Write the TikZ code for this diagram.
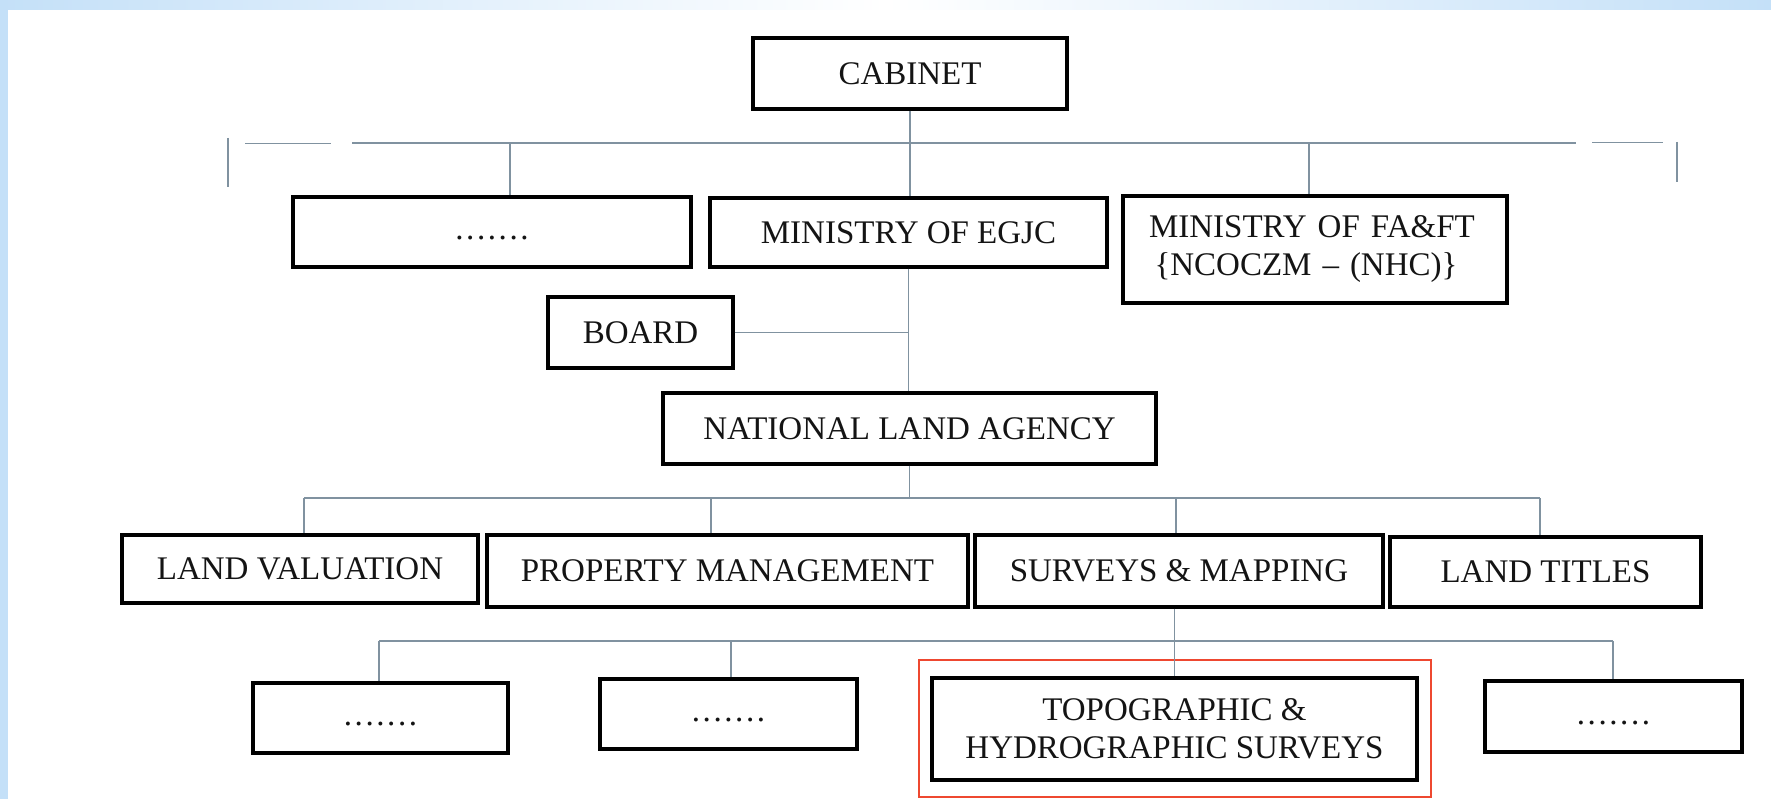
\documentclass[tikz,border=0pt]{standalone}
\usepackage{fontspec}
\setmainfont{Liberation Serif}
\definecolor{connclr}{RGB}{128,146,160}
\definecolor{lblue}{RGB}{196,224,248}
\definecolor{redclr}{RGB}{238,72,48}
\definecolor{txt}{RGB}{20,20,20}
\newcommand{\mydots}{\strut.\kern2.6pt.\kern2.6pt.\kern2.6pt.\kern2.6pt.\kern2.6pt.\kern2.6pt.}
\begin{document}
\begin{tikzpicture}[x=1pt,y=-1pt,
  box/.style={draw=black, line width=3.2pt, fill=white, inner sep=0pt, text=txt,
              font=\fontsize{33}{38}\selectfont, align=center},
  link/.style={draw=connclr, line width=1.4pt},
  highlight/.style={draw=redclr, line width=2pt, inner sep=0pt}
]
% background
\fill[white] (0,0) rectangle (1771,799);
\fill[lblue] (0,0) rectangle (8,799);
\shade[left color=lblue, right color=lblue, middle color=white] (0,0) rectangle (1771,10);
\useasboundingbox (0,0) rectangle (1771,799);

% nodes
\node[box, minimum width=314, minimum height=71] (cab)   at (910,73.5)   {CABINET};
\node[box, minimum width=398, minimum height=70] (d1)    at (492,232)    {\mydots};
\node[box, minimum width=397, minimum height=69] (egjc)  at (908.5,232.5) {MINISTRY OF EGJC};
\node[box, minimum width=384, minimum height=107, align=left, text width=332, inner xsep=26pt] (fa) at (1315,249.5)
  {MINISTRY OF FA\&FT\\\,\{NCOCZM -- (NHC)\}};
\node[box, minimum width=185, minimum height=71] (board) at (640.5,332.5) {BOARD};
\node[box, minimum width=493, minimum height=71] (nla)   at (909.5,428.5) {NATIONAL LAND AGENCY};
\node[box, minimum width=356, minimum height=68] (lv)    at (300,569)    {LAND VALUATION};
\node[box, minimum width=481, minimum height=72] (pm)    at (727.5,571)  {PROPERTY MANAGEMENT};
\node[box, minimum width=408, minimum height=72] (sm)    at (1179,571)   {SURVEYS \& MAPPING};
\node[box, minimum width=311, minimum height=70] (lt)    at (1545.5,572) {LAND TITLES};
\node[box, minimum width=255, minimum height=70] (l1)    at (380.5,718)  {\mydots};
\node[box, minimum width=257, minimum height=70] (l2)    at (728.5,714)  {\mydots};
\node[box, minimum width=485, minimum height=102] (topo) at (1174.5,729)
  {TOPOGRAPHIC \&\\HYDROGRAPHIC SURVEYS};
\node[box, minimum width=257, minimum height=71] (l4)    at (1613.5,716.5) {\mydots};
\node[highlight, minimum width=512, minimum height=137] (hl) at (1175,728.5) {};

% top bus
\coordinate (tickLa) at (228,138);
\coordinate (tickLb) at (228,187);
\coordinate (tbA) at (245,143.5);
\coordinate (tbB) at (331,143.5);
\coordinate (tbC) at (352,143);
\coordinate (tbD) at (1576,143);
\coordinate (tbE) at (1592,142.5);
\coordinate (tbF) at (1663,142.5);
\coordinate (tickRa) at (1677,142);
\coordinate (tickRb) at (1677,182);
\coordinate (td1) at (510,143);
\coordinate (tfa) at (1309,143);
\draw[link] (tickLa) -- (tickLb);
\draw[link] (tbA) -- (tbB);
\draw[link] (tbC) -- (tbD);
\draw[link] (tbE) -- (tbF);
\draw[link] (tickRa) -- (tickRb);
\draw[link] (cab.south) -- (egjc.north -| cab.south);
\draw[link] (td1) -- (td1 |- d1.north);
\draw[link] (tfa) -- (tfa |- fa.north);

% board & agency
\draw[link] (board.east) -- (board.east -| egjc.south);
\draw[link] (egjc.south) -- (nla.north -| egjc.south);

% row bus
\coordinate (rb) at (909,498);
\coordinate (rbL) at (304,498);
\coordinate (rbP) at (711,498);
\coordinate (rbS) at (1176,498);
\coordinate (rbR) at (1540,498);
\draw[link] (nla.south) -- (nla.south |- rb);
\draw[link] (rbL) -- (rbR);
\draw[link] (rbL) -- (rbL |- lv.north);
\draw[link] (rbP) -- (rbP |- pm.north);
\draw[link] (rbS) -- (rbS |- sm.north);
\draw[link] (rbR) -- (rbR |- lt.north);

% lower bus
\coordinate (lbL) at (379,641);
\coordinate (lb2) at (731,641);
\coordinate (lbR) at (1613,641);
\draw[link] (lbL) -- (lbR);
\draw[link] (topo.north |- sm.south) -- (topo.north);
\draw[link] (lbL) -- (lbL |- l1.north);
\draw[link] (lb2) -- (lb2 |- l2.north);
\draw[link] (lbR) -- (lbR |- l4.north);
\end{tikzpicture}
\end{document}
